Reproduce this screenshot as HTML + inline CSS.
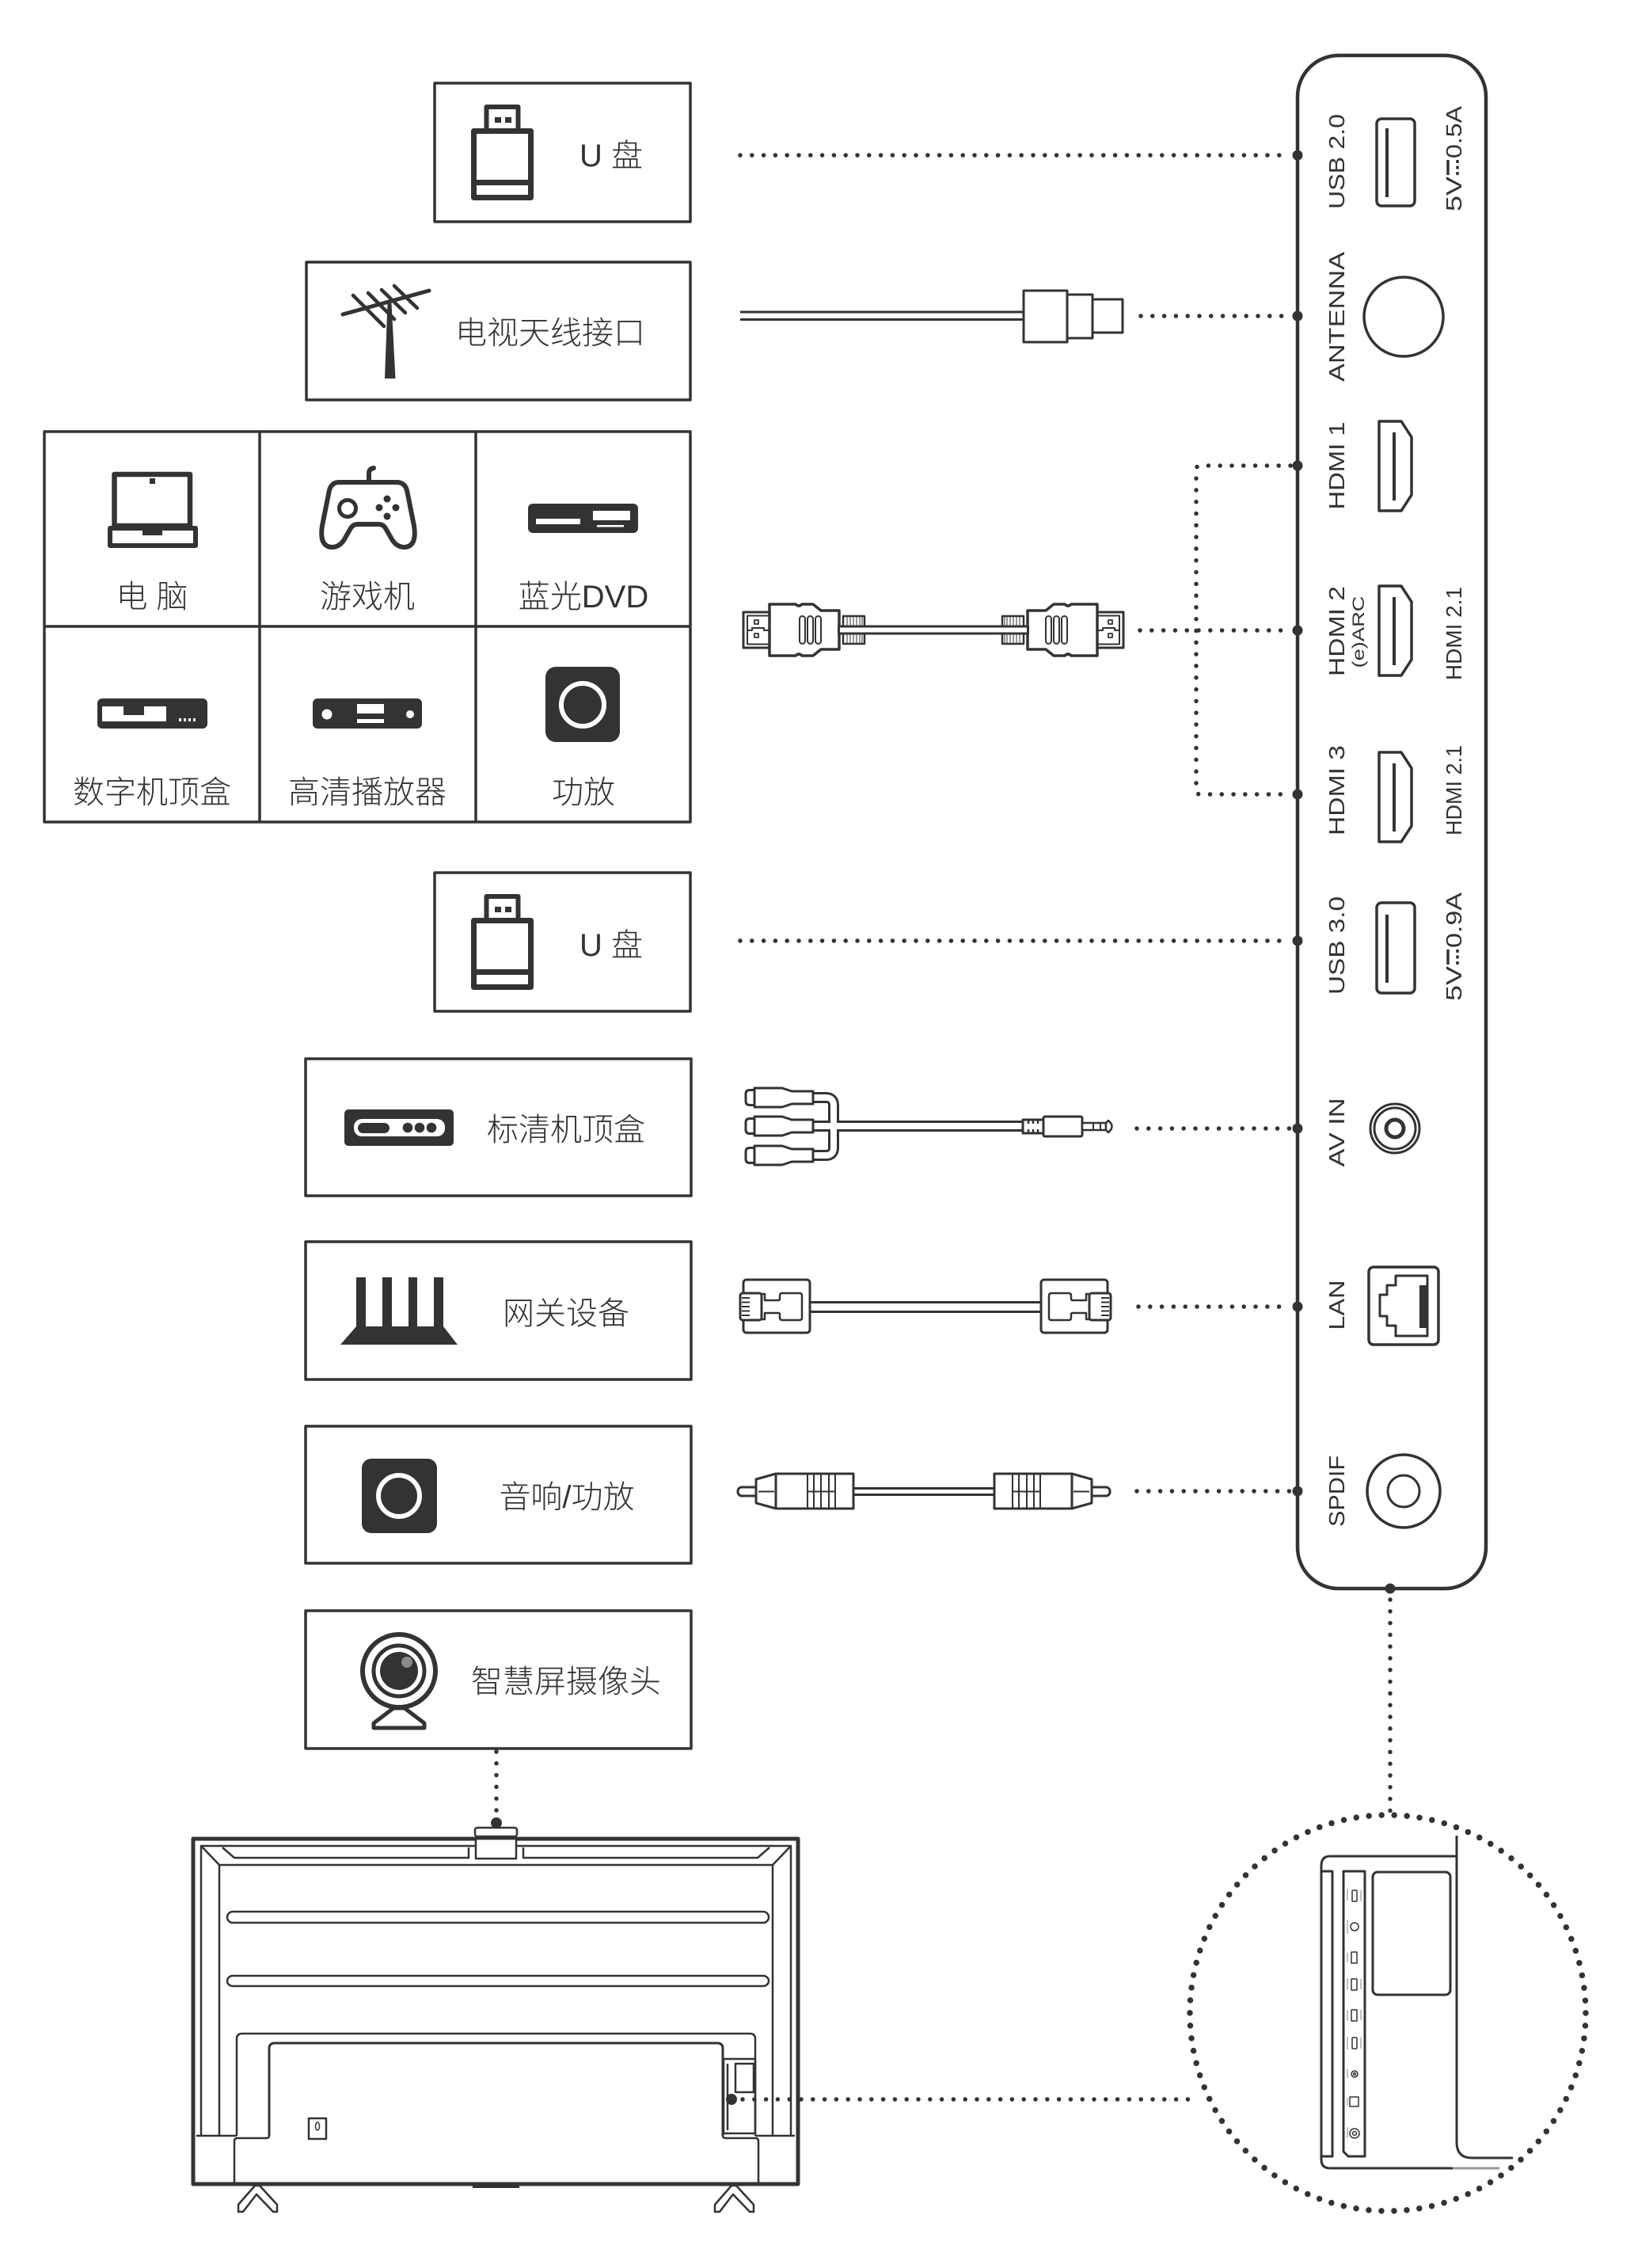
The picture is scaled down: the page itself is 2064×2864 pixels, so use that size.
<!DOCTYPE html>
<html><head><meta charset="utf-8">
<style>
html,body{margin:0;padding:0;background:#fff;}
svg{display:block;}
.ln{fill:none;stroke:#333;stroke-linejoin:round;}
.wf{fill:#fff;stroke:#333;stroke-linejoin:round;}
.dot{fill:none;stroke:#333;stroke-width:5.5;stroke-linecap:round;stroke-dasharray:0 14.8;}
.cn{font-family:"Liberation Sans","Noto Sans CJK SC",sans-serif;font-size:40px;fill:#333;font-weight:300;}
.lb{font-family:"Liberation Sans",sans-serif;font-size:28px;fill:#333;}
.dk{fill:#333;}
.wh{fill:#fff;}
</style></head><body>
<svg width="2064" height="2864" viewBox="0 0 2064 2864" xmlns="http://www.w3.org/2000/svg">
<rect width="2064" height="2864" fill="#fff"/>

<!-- ===== LEFT BOXES ===== -->
<g class="ln" stroke-width="3.5">
  <rect x="549" y="105" width="323" height="175"/>
  <rect x="387" y="331" width="485" height="174"/>
  <rect x="56" y="545" width="816" height="493"/>
  <line x1="328" y1="545" x2="328" y2="1038"/>
  <line x1="601" y1="545" x2="601" y2="1038"/>
  <line x1="56" y1="791" x2="872" y2="791"/>
  <rect x="549" y="1102" width="323" height="175"/>
  <rect x="386" y="1337" width="487" height="173"/>
  <rect x="386" y="1568" width="487" height="174"/>
  <rect x="386" y="1801" width="487" height="173"/>
  <rect x="386" y="2034" width="487" height="174"/>
</g>

<!-- USB stick icons -->
<g id="usb1">
  <rect class="ln" stroke-width="6" x="614.5" y="135" width="40" height="30"/>
  <rect class="dk" x="625" y="148" width="8" height="7"/>
  <rect class="dk" x="638" y="148" width="8" height="7"/>
  <rect class="ln" stroke-width="7" x="598.5" y="165.5" width="72" height="84"/>
  <line class="ln" stroke-width="7" x1="598" y1="230.5" x2="671" y2="230.5"/>
</g>
<use href="#usb1" transform="translate(0,997)"/>
<text class="cn" x="732" y="210">U 盘</text>
<text class="cn" x="732" y="1207">U 盘</text>

<!-- Antenna icon -->
<g stroke="#333" stroke-linecap="round" fill="none">
  <line x1="433" y1="397" x2="542" y2="367" stroke-width="5"/>
  <line x1="446" y1="373" x2="485" y2="412" stroke-width="4.5"/>
  <line x1="465" y1="370" x2="498" y2="403" stroke-width="4.5"/>
  <line x1="482" y1="366" x2="512" y2="395" stroke-width="4.5"/>
  <line x1="498" y1="361" x2="527" y2="389" stroke-width="4.5"/>
</g>
<polygon class="dk" points="489.5,383 494.5,383 499.5,478 486,478"/>
<text class="cn" x="695" y="434" text-anchor="middle">电视天线接口</text>

<!-- Grid icons -->
<rect class="ln" stroke-width="6.5" x="144.5" y="599" width="95.5" height="65"/>
<rect class="dk" x="189" y="604" width="7" height="7"/>
<rect class="ln" stroke-width="6" x="139" y="667" width="108" height="22"/>
<rect class="dk" x="180" y="667" width="25" height="9"/>
<text class="cn" x="192" y="767" text-anchor="middle">电 脑</text>
<path class="ln" stroke-width="6" d="M 428,609 L 501,609 Q 511,609 514,619 L 523,664 Q 527,690 511,691 Q 501,691 495,681 L 487,667 Q 484,662 478,662 L 452,662 Q 446,662 443,667 L 435,681 Q 429,691 419,691 Q 403,690 407,664 L 416,619 Q 419,609 428,609 Z"/>
<path class="ln" stroke-width="6" stroke-linecap="round" d="M 466,608 L 466,598 Q 466,592 472,591"/>
<circle class="ln" stroke-width="5" cx="439" cy="642" r="10.5"/>
<circle class="dk" cx="489" cy="630" r="4.5"/>
<circle class="dk" cx="479" cy="641" r="4.5"/>
<circle class="dk" cx="500" cy="641" r="4.5"/>
<circle class="dk" cx="489" cy="652" r="4.5"/>
<text class="cn" x="464" y="767" text-anchor="middle">游戏机</text>
<rect class="dk" x="667" y="636" width="139" height="37" rx="6"/>
<rect class="wh" x="677" y="655" width="56" height="7"/>
<rect class="wh" x="749" y="645" width="47" height="12"/>
<rect class="wh" x="754" y="663" width="34" height="2.5"/>
<text class="cn" x="737" y="767" text-anchor="middle">蓝光DVD</text>
<rect class="dk" x="123" y="882" width="139" height="38" rx="6"/>
<polygon class="wh" points="129,892 156,892 156,903 182,903 182,892 210,892 210,911 129,911"/>
<rect class="wh" x="226" y="907" width="3" height="4"/>
<rect class="wh" x="232" y="907" width="3" height="4"/>
<rect class="wh" x="238" y="907" width="3" height="4"/>
<rect class="wh" x="244" y="907" width="3" height="4"/>
<text class="cn" x="192" y="1014" text-anchor="middle">数字机顶盒</text>
<rect class="dk" x="395" y="882" width="138" height="38" rx="6"/>
<circle class="wh" cx="413" cy="902" r="6.5"/>
<circle class="wh" cx="518" cy="902" r="5"/>
<rect class="wh" x="451" y="889" width="34" height="12"/>
<rect class="wh" x="451" y="908" width="34" height="5"/>
<text class="cn" x="464" y="1014" text-anchor="middle">高清播放器</text>
<rect class="dk" x="689" y="842" width="94" height="95" rx="13"/>
<circle fill="none" stroke="#fff" stroke-width="6" cx="736" cy="890" r="27"/>
<text class="cn" x="737" y="1014" text-anchor="middle">功放</text>

<!-- 标清机顶盒 -->
<rect class="dk" x="435" y="1401" width="138" height="46" rx="5"/>
<rect class="wh" x="447" y="1413" width="115" height="22" rx="10"/>
<rect class="dk" x="452" y="1418" width="40" height="13" rx="6.5"/>
<circle class="dk" cx="515" cy="1424" r="6.3"/>
<circle class="dk" cx="530" cy="1424" r="6.3"/>
<circle class="dk" cx="545" cy="1424" r="6.3"/>
<text class="cn" x="715" y="1440" text-anchor="middle">标清机顶盒</text>
<rect class="dk" x="450" y="1613" width="12" height="64"/>
<rect class="dk" x="483" y="1613" width="12" height="64"/>
<rect class="dk" x="516" y="1613" width="11" height="64"/>
<rect class="dk" x="548" y="1613" width="12" height="64"/>
<polygon class="dk" points="450,1675 560,1675 578,1698 430,1698"/>
<text class="cn" x="715" y="1672" text-anchor="middle">网关设备</text>
<rect class="dk" x="457" y="1842" width="95" height="94" rx="12"/>
<circle fill="none" stroke="#fff" stroke-width="6" cx="504" cy="1889" r="26"/>
<text class="cn" x="716" y="1904" text-anchor="middle">音响/功放</text>
<circle class="ln" stroke-width="6" cx="504" cy="2110" r="46"/>
<circle class="ln" stroke-width="5" cx="504" cy="2110" r="32"/>
<circle class="dk" cx="504" cy="2110" r="24"/>
<circle fill="#8a8a8a" cx="514" cy="2099" r="7"/>
<polygon class="wf" stroke-width="5" points="497,2157 511,2157 536,2176 536,2182 472,2182 472,2176"/>
<text class="cn" x="715" y="2137" text-anchor="middle">智慧屏摄像头</text>

<!-- ===== CABLES ===== -->
<line class="ln" stroke-width="3" x1="935" y1="394" x2="1293" y2="394"/>
<line class="ln" stroke-width="3" x1="935" y1="403.5" x2="1293" y2="403.5"/>
<rect class="wf" stroke-width="3" x="1293" y="367" width="55" height="65"/>
<rect class="wf" stroke-width="3" x="1348" y="372" width="32" height="55"/>
<rect class="wf" stroke-width="3" x="1380" y="378" width="38" height="42"/>

<!-- HDMI cable -->
<g id="hdmiL">
  <rect class="wf" stroke-width="2.5" x="1065" y="778" width="27" height="35"/>
  <g stroke="#333" stroke-width="1">
    <line x1="1070" y1="779" x2="1070" y2="812"/><line x1="1074" y1="779" x2="1074" y2="812"/>
    <line x1="1078" y1="779" x2="1078" y2="812"/><line x1="1082" y1="779" x2="1082" y2="812"/>
    <line x1="1086" y1="779" x2="1086" y2="812"/><line x1="1089" y1="779" x2="1089" y2="812"/>
  </g>
  <rect class="wf" stroke-width="3" x="939" y="773" width="33" height="45"/>
  <polyline class="ln" stroke-width="2" points="972,777.5 944,777.5 944,813.5 972,813.5"/>
  <polyline class="ln" stroke-width="2" points="944,796 950,796 950,793 965,793 965,796 972,796"/>
  <rect class="ln" stroke-width="1.8" x="953" y="783" width="5" height="5"/>
  <rect class="ln" stroke-width="1.8" x="953" y="800" width="5" height="5"/>
  <path class="wf" stroke-width="3.5" d="M 972,763 L 1005,763 Q 1009,767 1013,763 L 1027,763 L 1037,771 L 1060,771 L 1060,820 L 1037,820 L 1027,828 L 1013,828 Q 1009,824 1005,828 L 972,828 Z"/>
  <rect class="ln" stroke-width="2" x="1010" y="778" width="7" height="35" rx="3.5"/>
  <rect class="ln" stroke-width="2" x="1020" y="778" width="7" height="35" rx="3.5"/>
  <rect class="ln" stroke-width="2" x="1030" y="778" width="7" height="35" rx="3.5"/>
</g>
<use href="#hdmiL" transform="translate(2358,0) scale(-1,1)"/>
<rect fill="#fff" x="1060" y="791" width="238" height="9"/>
<line stroke="#333" stroke-width="3" x1="1058" y1="791" x2="1300" y2="791"/>
<line stroke="#333" stroke-width="3" x1="1058" y1="800" x2="1300" y2="800"/>
<line stroke="#333" stroke-width="3" x1="1059.5" y1="791" x2="1059.5" y2="800"/>
<line stroke="#333" stroke-width="3" x1="1298.5" y1="791" x2="1298.5" y2="800"/>

<!-- AV cable -->
<g fill="none" stroke="#333" stroke-width="14" stroke-linejoin="round">
  <path d="M 1020,1386 L 1043,1386 Q 1053,1386 1053,1396 L 1053,1422"/>
  <path d="M 1020,1459 L 1043,1459 Q 1053,1459 1053,1449 L 1053,1422"/>
  <path d="M 1020,1422 L 1300,1422"/>
</g>
<g fill="none" stroke="#fff" stroke-width="8" stroke-linejoin="round">
  <path d="M 1020,1386 L 1043,1386 Q 1053,1386 1053,1396 L 1053,1422"/>
  <path d="M 1020,1459 L 1043,1459 Q 1053,1459 1053,1449 L 1053,1422"/>
  <path d="M 1020,1422 L 1300,1422"/>
</g>
<g id="rca">
  <path class="wf" stroke-width="3" d="M 953,1374 L 988,1374 L 1000,1378 L 1027,1378 L 1027,1394 L 1000,1394 L 988,1398 L 953,1398 Z"/>
  <path class="wf" stroke-width="3" d="M 953,1376.5 L 947,1376.5 Q 942,1376.5 942,1381.5 L 942,1390.5 Q 942,1395.5 947,1395.5 L 953,1395.5 Z"/>
</g>
<use href="#rca" transform="translate(0,36)"/>
<use href="#rca" transform="translate(0,73)"/>
<rect class="wf" stroke-width="3" x="1292" y="1414" width="26" height="17"/>
<g stroke="#333" stroke-width="2.5">
  <line x1="1299" y1="1414" x2="1299" y2="1419"/><line x1="1305" y1="1414" x2="1305" y2="1419"/><line x1="1311" y1="1414" x2="1311" y2="1419"/>
  <line x1="1299" y1="1426" x2="1299" y2="1431"/><line x1="1305" y1="1426" x2="1305" y2="1431"/><line x1="1311" y1="1426" x2="1311" y2="1431"/>
</g>
<rect class="wf" stroke-width="3" x="1318" y="1410" width="49" height="25" rx="2"/>
<rect class="wf" stroke-width="2.5" x="1367" y="1418" width="30" height="9"/>
<line stroke="#333" stroke-width="2" x1="1381" y1="1418" x2="1381" y2="1427"/>
<line stroke="#333" stroke-width="2" x1="1390" y1="1418" x2="1390" y2="1427"/>
<path class="wf" stroke-width="2.5" d="M 1397,1418 L 1400,1415 Q 1409,1422.5 1400,1430 L 1397,1427 Z"/>

<!-- LAN cable -->
<line stroke="#333" stroke-width="3" x1="1020" y1="1644.5" x2="1318" y2="1644.5"/>
<line stroke="#333" stroke-width="3" x1="1020" y1="1656.5" x2="1318" y2="1656.5"/>
<g id="lanL">
  <rect class="wf" stroke-width="3" x="939" y="1616" width="84" height="67" rx="4"/>
  <rect class="wf" stroke-width="3" x="935" y="1633" width="27" height="34" rx="3"/>
  <g stroke="#333" stroke-width="2">
    <line x1="937" y1="1639" x2="947" y2="1639"/><line x1="937" y1="1644.5" x2="947" y2="1644.5"/>
    <line x1="937" y1="1650" x2="947" y2="1650"/><line x1="937" y1="1655.5" x2="947" y2="1655.5"/>
    <line x1="937" y1="1661" x2="947" y2="1661"/>
  </g>
  <polyline class="ln" stroke-width="2.5" points="962,1634 966,1634 966,1642 985,1642"/>
  <polyline class="ln" stroke-width="2.5" points="962,1666 966,1666 966,1658 985,1658"/>
  <path class="ln" stroke-width="2.5" d="M 985,1642 L 985,1636 Q 985,1633 988,1633 L 1010,1633 Q 1013,1633 1013,1636 L 1013,1664 Q 1013,1667 1010,1667 L 988,1667 Q 985,1667 985,1664 L 985,1658"/>
</g>
<use href="#lanL" transform="translate(2338,0) scale(-1,1)"/>

<!-- SPDIF cable -->
<line stroke="#333" stroke-width="3" x1="1075" y1="1879.5" x2="1259" y2="1879.5"/>
<line stroke="#333" stroke-width="3" x1="1075" y1="1887.5" x2="1259" y2="1887.5"/>
<g id="spL">
  <rect class="wf" stroke-width="3" x="932" y="1878" width="26" height="11" rx="5"/>
  <polygon class="wf" stroke-width="3" points="955,1868 980,1861 980,1905 955,1898"/>
  <line stroke="#333" stroke-width="2" x1="958" y1="1883.5" x2="978" y2="1883.5"/>
  <rect class="wf" stroke-width="3" x="980" y="1861" width="98" height="44"/>
  <g stroke="#333" stroke-width="2">
    <line x1="1020" y1="1861" x2="1020" y2="1905"/><line x1="1028" y1="1861" x2="1028" y2="1905"/>
    <line x1="1037" y1="1861" x2="1037" y2="1905"/><line x1="1047" y1="1861" x2="1047" y2="1905"/>
    <line x1="1055" y1="1861" x2="1055" y2="1905"/>
    <line x1="1020" y1="1883.5" x2="1055" y2="1883.5"/>
  </g>
</g>
<use href="#spL" transform="translate(2334,0) scale(-1,1)"/>

<!-- ===== DOTTED CONNECTORS ===== -->
<path class="dot" d="M 935,196 L 1630,196"/>
<path class="dot" d="M 1441,399 L 1630,399"/>
<path class="dot" d="M 1630,588 L 1516,588 Q 1511,588 1511,593 L 1511,998 Q 1511,1003 1516,1003 L 1630,1003"/>
<path class="dot" d="M 1440,796 L 1630,796"/>
<path class="dot" d="M 935,1188 L 1630,1188"/>
<path class="dot" d="M 1436,1425 L 1630,1425"/>
<path class="dot" d="M 1438,1650 L 1630,1650"/>
<path class="dot" d="M 1436,1883 L 1630,1883"/>
<path class="dot" d="M 627,2212 L 627,2292"/>
<path class="dot" d="M 938,2651 L 1503,2651"/>
<path class="dot" d="M 1756,2020 L 1756,2292"/>
<circle cx="1753" cy="2542" r="250" fill="none" stroke="#333" stroke-width="7.5" stroke-linecap="round" stroke-dasharray="0 16.029"/>

<!-- ===== PANEL ===== -->
<rect class="ln" stroke-width="4.5" x="1639" y="70" width="238" height="1936" rx="52"/>
<g class="dk">
  <circle cx="1639" cy="196" r="6.5"/><circle cx="1639" cy="399" r="6.5"/>
  <circle cx="1639" cy="588" r="6.5"/><circle cx="1639" cy="796" r="6.5"/>
  <circle cx="1639" cy="1003" r="6.5"/><circle cx="1639" cy="1188" r="6.5"/>
  <circle cx="1639" cy="1425" r="6.5"/><circle cx="1639" cy="1650" r="6.5"/>
  <circle cx="1639" cy="1883" r="6.5"/>
  <circle cx="1756" cy="2006" r="6.5"/>
  <circle cx="627" cy="2302" r="7"/>
  <circle cx="924" cy="2651" r="7"/>
</g>

<rect class="ln" stroke-width="3.5" x="1739" y="150" width="48" height="110" rx="6"/>
<line stroke="#333" stroke-width="4" x1="1752" y1="162" x2="1752" y2="249"/>
<circle class="ln" stroke-width="3.5" cx="1773" cy="400" r="50"/>
<g id="hdmiP">
  <path class="ln" stroke-width="3.5" d="M 1742,532 L 1770,532 L 1783,552 L 1783,625 L 1770,645 L 1742,645 Z"/>
  <line stroke="#333" stroke-width="4" x1="1761" y1="546" x2="1761" y2="632"/>
</g>
<use href="#hdmiP" transform="translate(0,208)"/>
<use href="#hdmiP" transform="translate(0,418)"/>
<rect class="ln" stroke-width="3.5" x="1739" y="1140" width="48" height="114" rx="6"/>
<line stroke="#333" stroke-width="4" x1="1752" y1="1155" x2="1752" y2="1241"/>
<circle class="ln" stroke-width="3" cx="1762" cy="1425" r="31"/>
<circle class="ln" stroke-width="3" cx="1762" cy="1425" r="26"/>
<circle class="ln" stroke-width="5" cx="1762" cy="1425" r="11"/>
<rect class="ln" stroke-width="3.5" x="1729" y="1600" width="88" height="98" rx="6"/>
<polygon class="ln" stroke-width="3" points="1803,1611 1763,1611 1763,1623 1752,1623 1752,1635 1743,1635 1743,1662 1752,1662 1752,1674 1763,1674 1763,1687 1803,1687"/>
<rect class="dk" x="1793" y="1623" width="10" height="54"/>
<circle class="ln" stroke-width="3.5" cx="1773" cy="1883" r="46"/>
<circle class="ln" stroke-width="3" cx="1773" cy="1883" r="20"/>

<text class="lb" transform="translate(1698,204) rotate(-90)" text-anchor="middle" textLength="120" lengthAdjust="spacingAndGlyphs">USB 2.0</text>
<text class="lb" transform="translate(1698,400) rotate(-90)" text-anchor="middle" textLength="164" lengthAdjust="spacingAndGlyphs">ANTENNA</text>
<text class="lb" transform="translate(1698,588) rotate(-90)" text-anchor="middle" textLength="111" lengthAdjust="spacingAndGlyphs">HDMI 1</text>
<text class="lb" transform="translate(1698,797) rotate(-90)" text-anchor="middle" textLength="114" lengthAdjust="spacingAndGlyphs">HDMI 2</text>
<text class="lb" style="font-size:21px" transform="translate(1723,798) rotate(-90)" text-anchor="middle" textLength="91" lengthAdjust="spacingAndGlyphs">(e)ARC</text>
<text class="lb" transform="translate(1698,998) rotate(-90)" text-anchor="middle" textLength="114" lengthAdjust="spacingAndGlyphs">HDMI 3</text>
<text class="lb" transform="translate(1698,1194) rotate(-90)" text-anchor="middle" textLength="124" lengthAdjust="spacingAndGlyphs">USB 3.0</text>
<text class="lb" transform="translate(1698,1430) rotate(-90)" text-anchor="middle" textLength="87" lengthAdjust="spacingAndGlyphs">AV IN</text>
<text class="lb" transform="translate(1698,1648) rotate(-90)" text-anchor="middle" textLength="63" lengthAdjust="spacingAndGlyphs">LAN</text>
<text class="lb" transform="translate(1698,1883) rotate(-90)" text-anchor="middle" textLength="90" lengthAdjust="spacingAndGlyphs">SPDIF</text>
<text class="lb" transform="translate(1846,800) rotate(-90)" text-anchor="middle" textLength="118" lengthAdjust="spacingAndGlyphs">HDMI 2.1</text>
<text class="lb" transform="translate(1846,998) rotate(-90)" text-anchor="middle" textLength="114" lengthAdjust="spacingAndGlyphs">HDMI 2.1</text>
<g id="pw">
  <text class="lb" transform="translate(1846,245) rotate(-90)" text-anchor="middle" textLength="44" lengthAdjust="spacingAndGlyphs">5V</text>
  <line stroke="#333" stroke-width="3.5" x1="1829" y1="202" x2="1829" y2="221"/>
  <g stroke="#333" stroke-width="3.5">
    <line x1="1841" y1="202" x2="1841" y2="206"/><line x1="1841" y1="209.5" x2="1841" y2="213.5"/><line x1="1841" y1="217" x2="1841" y2="221"/>
  </g>
</g>
<text class="lb" transform="translate(1846,167) rotate(-90)" text-anchor="middle" textLength="66" lengthAdjust="spacingAndGlyphs">0.5A</text>
<use href="#pw" transform="translate(0,997)"/>
<text class="lb" transform="translate(1846,1162) rotate(-90)" text-anchor="middle" textLength="70" lengthAdjust="spacingAndGlyphs">0.9A</text>

<!-- ===== TV BACK ===== -->
<rect class="ln" stroke-width="5" x="244" y="2322" width="764" height="436"/>
<g class="ln" stroke-width="2.5">
  <path d="M 254,2697 L 254,2331 L 999,2331 L 999,2697"/>
  <path d="M 277,2697 L 277,2355 L 976,2355 L 976,2697"/>
  <path d="M 254,2331 L 277,2355 M 999,2331 L 976,2355"/>
  <path d="M 281,2333 L 296,2346 L 592,2346 L 592,2333"/>
  <path d="M 661,2333 L 661,2346 L 957,2346 L 972,2333"/>
  <rect x="287" y="2414" width="684" height="14" rx="7"/>
  <rect x="287" y="2495" width="684" height="13" rx="7"/>
  <path d="M 299,2697 L 299,2575 Q 299,2568 306,2568 L 947,2568 Q 954,2568 954,2575 L 954,2697"/>
  <path d="M 248,2697 L 299,2697 M 954,2697 L 1004,2697"/>
  <path d="M 296,2756 L 296,2704 Q 296,2700 300,2700 L 336,2700 Q 340,2700 340,2697"/>
  <path d="M 958,2756 L 958,2704 Q 958,2700 954,2700 L 917,2700 Q 913,2700 913,2697"/>
  <rect x="390" y="2675" width="22" height="26"/>
  <rect x="914" y="2600" width="40" height="94"/>
  <line x1="919" y1="2606" x2="919" y2="2690"/>
  <rect x="929" y="2606" width="23" height="36"/>
</g>
<path class="ln" stroke-width="3" d="M 340,2697 L 340,2587 Q 340,2580 347,2580 L 906,2580 Q 913,2580 913,2587 L 913,2697"/>
<ellipse class="ln" stroke-width="1.5" cx="401" cy="2685" rx="2.5" ry="5"/>
<rect class="wf" stroke-width="2.5" x="601" y="2322" width="51" height="25"/>
<rect class="wf" stroke-width="2.5" x="600" y="2308" width="53" height="11" rx="3"/>
<rect class="dk" x="597" y="2757" width="59" height="6"/>
<polygon class="wf" stroke-width="2.5" points="301,2784 322,2760 328,2760 350,2784 350,2793 345,2793 324,2771 307,2793 301,2793"/>
<polygon class="wf" stroke-width="2.5" points="903,2784 924,2760 930,2760 952,2784 952,2793 947,2793 926,2771 909,2793 903,2793"/>

<!-- ===== CIRCLE DETAIL ===== -->
<g class="ln" stroke-width="3">
  <path d="M 1840,2318 L 1840,2705 Q 1840,2725 1859,2725 L 1911,2725"/>
  <path d="M 1840,2344 L 1680,2344 Q 1669,2344 1669,2356 L 1669,2727 Q 1669,2738 1680,2738 L 1835,2738"/>
  <path d="M 1669,2363 L 1683,2363 L 1683,2723 L 1669,2723"/>
  <path d="M 1697,2363 L 1724,2363 L 1724,2723 L 1703,2723 L 1697,2717 Z"/>
  <rect x="1734" y="2364" width="98" height="155" rx="6"/>
</g>
<line stroke="#999" stroke-width="3" x1="1835" y1="2738" x2="1894" y2="2738"/>
<g class="ln" stroke-width="1.5">
  <rect x="1708" y="2387" width="6" height="14" rx="1"/>
  <circle cx="1711" cy="2433" r="5"/>
  <rect x="1707" y="2465" width="7" height="14"/>
  <rect x="1707" y="2499" width="7" height="14"/>
  <rect x="1707" y="2538" width="7" height="14"/>
  <rect x="1708" y="2573" width="6" height="14" rx="1"/>
  <circle cx="1711" cy="2619" r="4"/><circle cx="1711" cy="2619" r="1.5"/>
  <rect x="1705" y="2648" width="11" height="12"/>
  <circle cx="1711" cy="2694" r="6"/><circle cx="1711" cy="2694" r="2.5"/>
</g>
<g stroke="#aaa" stroke-width="1.5">
  <line x1="1702" y1="2385" x2="1702" y2="2400"/><line x1="1702" y1="2425" x2="1702" y2="2442"/>
  <line x1="1702" y1="2466" x2="1702" y2="2478"/><line x1="1702" y1="2498" x2="1702" y2="2513"/>
  <line x1="1702" y1="2538" x2="1702" y2="2552"/><line x1="1702" y1="2572" x2="1702" y2="2588"/>
  <line x1="1702" y1="2613" x2="1702" y2="2624"/><line x1="1702" y1="2649" x2="1702" y2="2659"/>
  <line x1="1702" y1="2686" x2="1702" y2="2700"/>
  <line x1="1719" y1="2387" x2="1719" y2="2401"/><line x1="1719" y1="2499" x2="1719" y2="2512"/>
  <line x1="1719" y1="2538" x2="1719" y2="2551"/><line x1="1719" y1="2573" x2="1719" y2="2587"/>
</g>
</svg>
</body></html>
